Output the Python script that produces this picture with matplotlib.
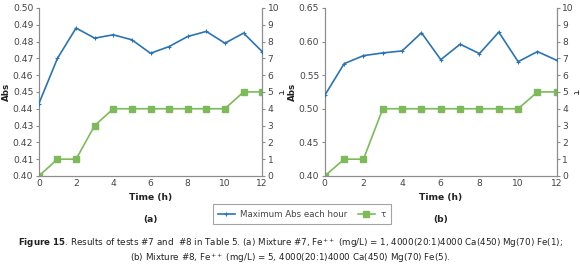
import matplotlib.pyplot as plt
import numpy as np

hours = np.arange(0, 13)

abs_a = [0.443, 0.470, 0.488, 0.482, 0.484, 0.481, 0.473, 0.477, 0.483, 0.486, 0.479, 0.485, 0.474]
tau_a = [0, 1, 1, 3, 4, 4, 4, 4, 4, 4, 4, 5, 5]

abs_b = [0.520, 0.567, 0.579, 0.583, 0.586, 0.613, 0.573, 0.596, 0.582, 0.614, 0.570, 0.585, 0.572]
tau_b = [0, 1, 1, 4, 4, 4, 4, 4, 4, 4, 4, 5, 5]

blue = '#2b74b3'
green = '#7dbb5a'
grey = '#8c8c8c'
txt = '#444444'

plt.rcParams['font.family'] = ['DejaVu Sans']
plt.rcParams['font.size'] = 7

fig = plt.figure(figsize=(5.8, 2.72), dpi=100)


def panel(rect, absv, tauv, ylim, yticks, letter):
    ax = fig.add_axes(rect)
    ax2 = ax.twinx()
    l1, = ax.plot(hours, absv, color=blue, lw=1.2, marker='+', ms=3, mew=0.8,
                  label='Maximum Abs each hour', zorder=3)
    l2, = ax2.plot(hours, tauv, color=green, lw=1.2, marker='s', ms=4, label='τ')
    ax.set_zorder(ax2.get_zorder() + 1)
    ax.patch.set_visible(False)

    ax.set_xlim(0, 12)
    ax.set_xticks(range(0, 13, 2))
    ax.set_ylim(*ylim)
    ax.set_yticks(yticks)
    ax.set_yticklabels(['%.2f' % v for v in yticks])
    ax2.set_ylim(0, 10)
    ax2.set_yticks(range(0, 11))

    for a in (ax, ax2):
        a.spines['top'].set_visible(False)
        for s in ('left', 'right', 'bottom'):
            a.spines[s].set_color(grey)
            a.spines[s].set_linewidth(0.8)
        a.tick_params(colors=grey, labelcolor=txt, labelsize=6.6, length=2.5,
                      width=0.8, pad=1.5)
    ax.tick_params(axis='x', length=0, pad=2)

    ax.set_ylabel('Abs', fontweight='bold', fontsize=6.3, labelpad=1, color='#222222')
    ax2.set_ylabel('τ', fontsize=6.5, rotation=-90, labelpad=4, color='#222222')
    ax.set_xlabel('Time (h)', fontweight='bold', fontsize=6.6, labelpad=4, color='#222222')
    ax.text(0.5, -0.26, letter, transform=ax.transAxes, ha='center', va='center',
            fontweight='bold', fontsize=6.6, color='#222222')
    return l1, l2


l1, l2 = panel([0.067, 0.353, 0.385, 0.618], abs_a, tau_a, (0.40, 0.50),
               np.round(np.arange(0.40, 0.501, 0.01), 2), '(a)')
panel([0.560, 0.353, 0.400, 0.618], abs_b, tau_b, (0.40, 0.65),
      np.round(np.arange(0.40, 0.651, 0.05), 2), '(b)')

leg = fig.legend([l1, l2], ['Maximum Abs each hour', 'τ'], loc='center',
                 bbox_to_anchor=(0.52, 0.213), ncol=2, frameon=True, fancybox=False,
                 fontsize=6.2, handlelength=2.0, handletextpad=0.6, columnspacing=1.2,
                 borderpad=0.6, labelcolor=txt)
leg.get_frame().set_edgecolor(grey)
leg.get_frame().set_linewidth(0.8)

fig.text(0.5, 0.105,
         r'$\bf{Figure\ 15}$. Results of tests #7 and  #8 in Table 5. (a) Mixture #7, Fe$^{++}$ (mg/L) = 1, '
         r'4000(20:1)4000 Ca(450) Mg(70) Fe(1);',
         ha='center', va='center', fontsize=6.3, color='#222222')
fig.text(0.5, 0.05,
         r'(b) Mixture #8, Fe$^{++}$ (mg/L) = 5, 4000(20:1)4000 Ca(450) Mg(70) Fe(5).',
         ha='center', va='center', fontsize=6.3, color='#222222')

fig.savefig('out.png', dpi=100)
